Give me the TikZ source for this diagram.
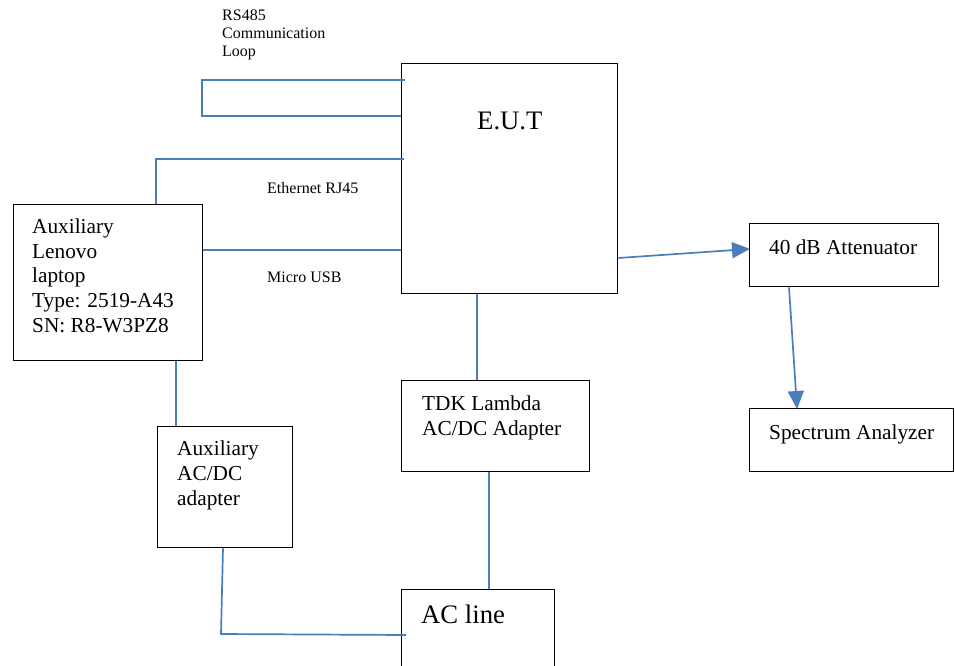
\documentclass[tikz,border=0pt]{standalone}
\usepackage{fontspec}
\setmainfont{Liberation Serif}
\usetikzlibrary{arrows.meta}
\definecolor{linkblue}{HTML}{4A7EBB}
\tikzset{
  box/.style={draw=black, line width=1.3pt, rectangle, inner sep=0pt, anchor=north west},
  link/.style={draw=linkblue, line width=1.7pt},
  arr/.style={link, -{Triangle[length=18pt,width=16pt]}, shorten >=-1pt},
  small/.style={anchor=base west, inner sep=0pt, font=\fontsize{16}{18}\selectfont},
  mid/.style={anchor=base west, inner sep=0pt, font=\fontsize{21.3}{24}\selectfont},
  big/.style={anchor=base west, inner sep=0pt, font=\fontsize{26.7}{30}\selectfont},
}
\begin{document}
\begin{tikzpicture}[x=1pt,y=-1pt]
\useasboundingbox (0,0) rectangle (955,666);
\clip (0,0) rectangle (955,666);
% boxes
\node[box, minimum width=216pt, minimum height=230pt] (eut) at (401,63) {};
\node[box, minimum width=189pt, minimum height=156pt] (laptop) at (13,204) {};
\node[box, minimum width=135pt, minimum height=121pt] (aux) at (157,426) {};
\node[box, minimum width=188pt, minimum height=91pt] (tdk) at (401,380) {};
\node[box, minimum width=153pt, minimum height=100pt] (acline) at (401,589) {};
\node[box, minimum width=189pt, minimum height=63pt] (att) at (749,223) {};
\node[box, minimum width=204pt, minimum height=63pt] (spec) at (749,408) {};
% texts
\node[big] (teut) at (477,129) {E.U.T};
\node[mid] (tl1) at (32,233) {Auxiliary};
\node[mid] (tl2) at (32,258) {Lenovo};
\node[mid] (tl3) at (32,282) {laptop};
\node[mid] (tl4) at (32,307) {Type: 2519-A43};
\node[mid] (tl5) at (32,332) {SN: R8-W3PZ8};
\node[mid] (ta1) at (177,455) {Auxiliary};
\node[mid] (ta2) at (177,480) {AC/DC};
\node[mid] (ta3) at (177,505) {adapter};
\node[mid] (tt1) at (422,410) {TDK Lambda};
\node[mid] (tt2) at (422,435) {AC/DC Adapter};
\node[big] (tac) at (421,623) {AC line};
\node[mid] (tatt) at (769,254) {40 dB Attenuator};
\node[mid] (tspec) at (769,439) {Spectrum Analyzer};
\node[small] (rs1) at (222,21) {RS485};
\node[small] (rs2) at (222,39) {Communication};
\node[small] (rs3) at (222,57) {Loop};
\node[small] (eth) at (267,193) {Ethernet RJ45};
\node[small] (usb) at (267,282) {Micro USB};
% connectors
\draw[link] ([xshift=4pt]eut.west |- 0,80) -- (202,80) -- (202,116) -- (eut.west |- 0,116);
\draw[link] ([xshift=3pt]eut.west |- 0,159) -- (156,159) -- (156,0 |- laptop.north);
\draw[link] (laptop.east |- 0,250) -- (eut.west |- 0,250);
\draw[link] (176,0 |- laptop.south) -- (176,0 |- aux.north);
\draw[link] (223,0 |- aux.south) -- (221,634) -- ([xshift=5pt]acline.west |- 0,635);
\draw[link] (477,0 |- eut.south) -- (477,0 |- tdk.north);
\draw[link] (489,0 |- tdk.south) -- (489,0 |- acline.north);
\draw[arr] (eut.east |- 0,258) -- (att.west |- 0,249);
\draw[arr] (789,0 |- att.south) -- (797,0 |- spec.north);
\end{tikzpicture}
\end{document}
